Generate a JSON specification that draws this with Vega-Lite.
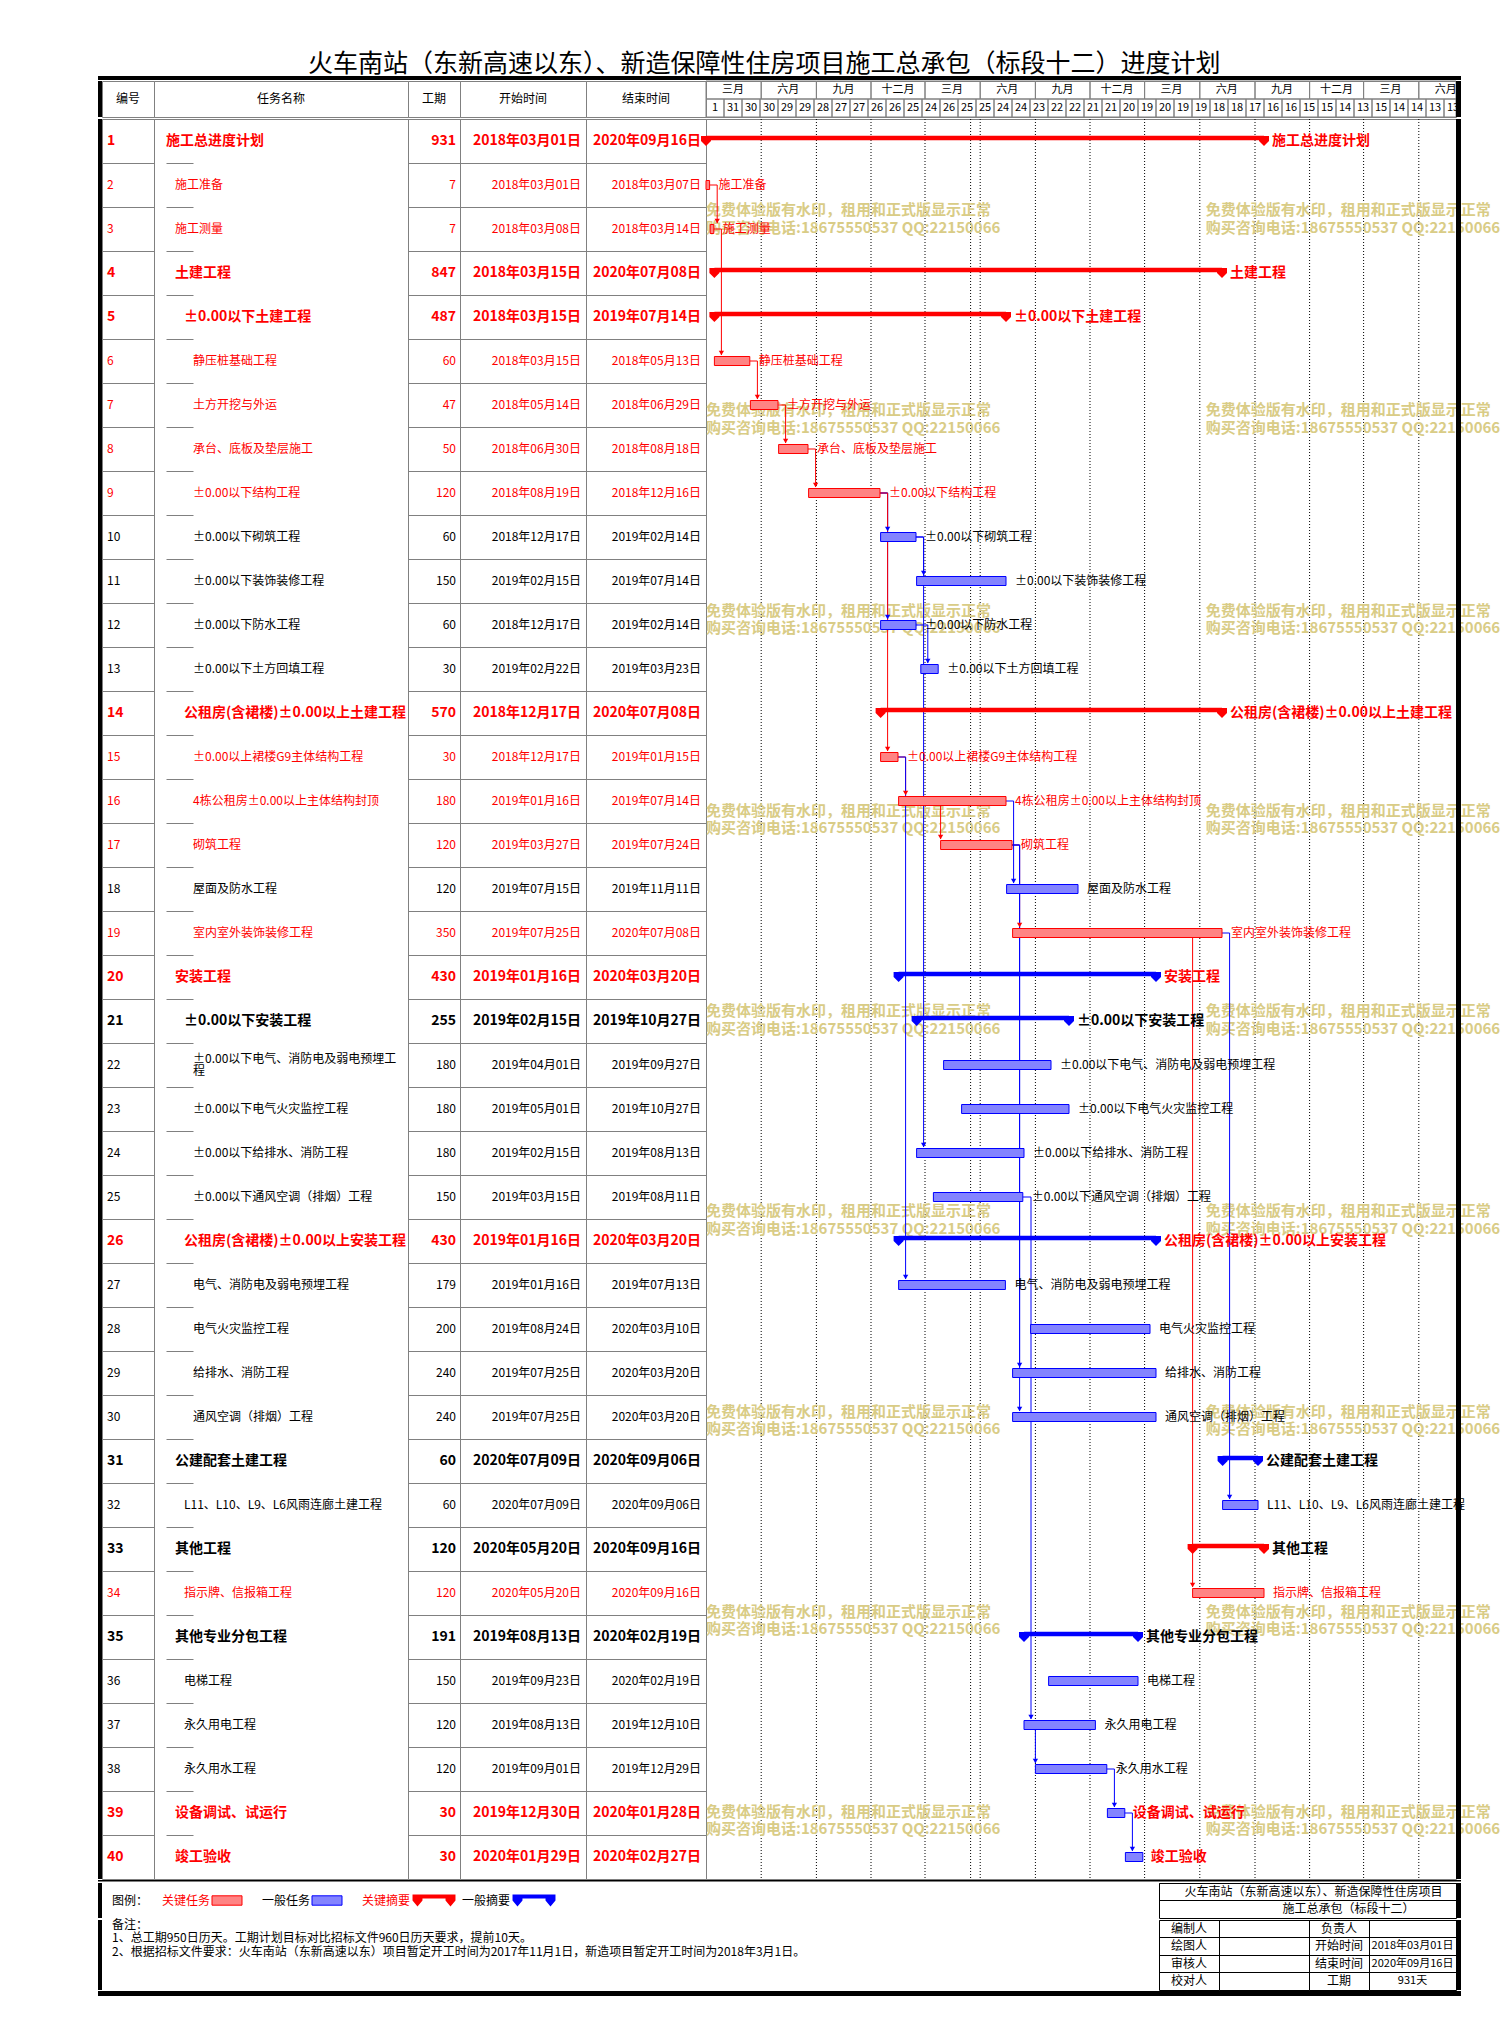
{
"$schema": "https://vega.github.io/schema/vega-lite/v6.json",
"background": "white",
"padding": {"left": 98, "top": 52, "right": 0, "bottom": 0},
"title": {"text": "火车南站（东新高速以东）、新造保障性住房项目施工总承包（标段十二）进度计划", "fontSize": 25, "fontWeight": "normal", "color": "#000000", "anchor": "start", "offset": -1, "dx": 210, "font": "Noto Sans CJK SC"},
"config": {"font": "Noto Sans CJK SC", "view": {"stroke": null}, "text": {"font": "Noto Sans CJK SC"}},
"datasets": {
"tasks": [
{"id":1,"name":"施工总进度计划","dur":931,"start":"2018-03-01","end":"2020-09-16","lvl":0,"b":1,"tc":"r","bc":"r","sum":1},
{"id":2,"name":"施工准备","dur":7,"start":"2018-03-01","end":"2018-03-07","lvl":1,"b":0,"tc":"r","bc":"r","sum":0},
{"id":3,"name":"施工测量","dur":7,"start":"2018-03-08","end":"2018-03-14","lvl":1,"b":0,"tc":"r","bc":"r","sum":0},
{"id":4,"name":"土建工程","dur":847,"start":"2018-03-15","end":"2020-07-08","lvl":1,"b":1,"tc":"r","bc":"r","sum":1},
{"id":5,"name":"±0.00以下土建工程","dur":487,"start":"2018-03-15","end":"2019-07-14","lvl":2,"b":1,"tc":"r","bc":"r","sum":1},
{"id":6,"name":"静压桩基础工程","dur":60,"start":"2018-03-15","end":"2018-05-13","lvl":3,"b":0,"tc":"r","bc":"r","sum":0},
{"id":7,"name":"土方开挖与外运","dur":47,"start":"2018-05-14","end":"2018-06-29","lvl":3,"b":0,"tc":"r","bc":"r","sum":0},
{"id":8,"name":"承台、底板及垫层施工","dur":50,"start":"2018-06-30","end":"2018-08-18","lvl":3,"b":0,"tc":"r","bc":"r","sum":0},
{"id":9,"name":"±0.00以下结构工程","dur":120,"start":"2018-08-19","end":"2018-12-16","lvl":3,"b":0,"tc":"r","bc":"r","sum":0},
{"id":10,"name":"±0.00以下砌筑工程","dur":60,"start":"2018-12-17","end":"2019-02-14","lvl":3,"b":0,"tc":"k","bc":"b","sum":0},
{"id":11,"name":"±0.00以下装饰装修工程","dur":150,"start":"2019-02-15","end":"2019-07-14","lvl":3,"b":0,"tc":"k","bc":"b","sum":0},
{"id":12,"name":"±0.00以下防水工程","dur":60,"start":"2018-12-17","end":"2019-02-14","lvl":3,"b":0,"tc":"k","bc":"b","sum":0},
{"id":13,"name":"±0.00以下土方回填工程","dur":30,"start":"2019-02-22","end":"2019-03-23","lvl":3,"b":0,"tc":"k","bc":"b","sum":0},
{"id":14,"name":"公租房(含裙楼)±0.00以上土建工程","dur":570,"start":"2018-12-17","end":"2020-07-08","lvl":2,"b":1,"tc":"r","bc":"r","sum":1},
{"id":15,"name":"±0.00以上裙楼G9主体结构工程","dur":30,"start":"2018-12-17","end":"2019-01-15","lvl":3,"b":0,"tc":"r","bc":"r","sum":0},
{"id":16,"name":"4栋公租房±0.00以上主体结构封顶","dur":180,"start":"2019-01-16","end":"2019-07-14","lvl":3,"b":0,"tc":"r","bc":"r","sum":0},
{"id":17,"name":"砌筑工程","dur":120,"start":"2019-03-27","end":"2019-07-24","lvl":3,"b":0,"tc":"r","bc":"r","sum":0},
{"id":18,"name":"屋面及防水工程","dur":120,"start":"2019-07-15","end":"2019-11-11","lvl":3,"b":0,"tc":"k","bc":"b","sum":0},
{"id":19,"name":"室内室外装饰装修工程","dur":350,"start":"2019-07-25","end":"2020-07-08","lvl":3,"b":0,"tc":"r","bc":"r","sum":0},
{"id":20,"name":"安装工程","dur":430,"start":"2019-01-16","end":"2020-03-20","lvl":1,"b":1,"tc":"r","bc":"b","sum":1},
{"id":21,"name":"±0.00以下安装工程","dur":255,"start":"2019-02-15","end":"2019-10-27","lvl":2,"b":1,"tc":"k","bc":"b","sum":1},
{"id":22,"name":"±0.00以下电气、消防电及弱电预埋工程","dur":180,"start":"2019-04-01","end":"2019-09-27","lvl":3,"b":0,"tc":"k","bc":"b","sum":0},
{"id":23,"name":"±0.00以下电气火灾监控工程","dur":180,"start":"2019-05-01","end":"2019-10-27","lvl":3,"b":0,"tc":"k","bc":"b","sum":0},
{"id":24,"name":"±0.00以下给排水、消防工程","dur":180,"start":"2019-02-15","end":"2019-08-13","lvl":3,"b":0,"tc":"k","bc":"b","sum":0},
{"id":25,"name":"±0.00以下通风空调（排烟）工程","dur":150,"start":"2019-03-15","end":"2019-08-11","lvl":3,"b":0,"tc":"k","bc":"b","sum":0},
{"id":26,"name":"公租房(含裙楼)±0.00以上安装工程","dur":430,"start":"2019-01-16","end":"2020-03-20","lvl":2,"b":1,"tc":"r","bc":"b","sum":1},
{"id":27,"name":"电气、消防电及弱电预埋工程","dur":179,"start":"2019-01-16","end":"2019-07-13","lvl":3,"b":0,"tc":"k","bc":"b","sum":0},
{"id":28,"name":"电气火灾监控工程","dur":200,"start":"2019-08-24","end":"2020-03-10","lvl":3,"b":0,"tc":"k","bc":"b","sum":0},
{"id":29,"name":"给排水、消防工程","dur":240,"start":"2019-07-25","end":"2020-03-20","lvl":3,"b":0,"tc":"k","bc":"b","sum":0},
{"id":30,"name":"通风空调（排烟）工程","dur":240,"start":"2019-07-25","end":"2020-03-20","lvl":3,"b":0,"tc":"k","bc":"b","sum":0},
{"id":31,"name":"公建配套土建工程","dur":60,"start":"2020-07-09","end":"2020-09-06","lvl":1,"b":1,"tc":"k","bc":"b","sum":1},
{"id":32,"name":"L11、L10、L9、L6风雨连廊土建工程","dur":60,"start":"2020-07-09","end":"2020-09-06","lvl":2,"b":0,"tc":"k","bc":"b","sum":0},
{"id":33,"name":"其他工程","dur":120,"start":"2020-05-20","end":"2020-09-16","lvl":1,"b":1,"tc":"k","bc":"r","sum":1},
{"id":34,"name":"指示牌、信报箱工程","dur":120,"start":"2020-05-20","end":"2020-09-16","lvl":2,"b":0,"tc":"r","bc":"r","sum":0},
{"id":35,"name":"其他专业分包工程","dur":191,"start":"2019-08-13","end":"2020-02-19","lvl":1,"b":1,"tc":"k","bc":"b","sum":1},
{"id":36,"name":"电梯工程","dur":150,"start":"2019-09-23","end":"2020-02-19","lvl":2,"b":0,"tc":"k","bc":"b","sum":0},
{"id":37,"name":"永久用电工程","dur":120,"start":"2019-08-13","end":"2019-12-10","lvl":2,"b":0,"tc":"k","bc":"b","sum":0},
{"id":38,"name":"永久用水工程","dur":120,"start":"2019-09-01","end":"2019-12-29","lvl":2,"b":0,"tc":"k","bc":"b","sum":0},
{"id":39,"name":"设备调试、试运行","dur":30,"start":"2019-12-30","end":"2020-01-28","lvl":1,"b":1,"tc":"r","bc":"b","sum":0},
{"id":40,"name":"竣工验收","dur":30,"start":"2020-01-29","end":"2020-02-27","lvl":1,"b":1,"tc":"r","bc":"b","sum":0}
],
"links": [
{"f":2,"t":3,"fe":"2018-03-07","ts":"2018-03-08","c":"r","k":"FS"},
{"f":3,"t":6,"fe":"2018-03-14","ts":"2018-03-15","c":"r","k":"FS"},
{"f":6,"t":7,"fe":"2018-05-13","ts":"2018-05-14","c":"r","k":"FS"},
{"f":7,"t":8,"fe":"2018-06-29","ts":"2018-06-30","c":"r","k":"FS"},
{"f":8,"t":9,"fe":"2018-08-18","ts":"2018-08-19","c":"r","k":"FS"},
{"f":9,"t":10,"fe":"2018-12-16","ts":"2018-12-17","c":"b","k":"FS"},
{"f":9,"t":12,"fe":"2018-12-16","ts":"2018-12-17","c":"b","k":"FS"},
{"f":9,"t":15,"fe":"2018-12-16","ts":"2018-12-17","c":"r","k":"FS"},
{"f":10,"t":11,"fe":"2019-02-14","ts":"2019-02-15","c":"b","k":"FS"},
{"f":10,"t":24,"fe":"2019-02-14","ts":"2019-02-15","c":"b","k":"FS"},
{"f":12,"t":13,"fe":"2019-02-14","ts":"2019-02-22","c":"b","k":"FS"},
{"f":15,"t":16,"fe":"2019-01-15","ts":"2019-01-16","c":"r","k":"FS"},
{"f":15,"t":27,"fe":"2019-01-15","ts":"2019-01-16","c":"b","k":"FS"},
{"f":16,"t":17,"fe":"2019-07-14","ts":"2019-03-27","c":"r","k":"SS"},
{"f":16,"t":18,"fe":"2019-07-14","ts":"2019-07-15","c":"b","k":"FS"},
{"f":17,"t":19,"fe":"2019-07-24","ts":"2019-07-25","c":"r","k":"FS"},
{"f":17,"t":29,"fe":"2019-07-24","ts":"2019-07-25","c":"b","k":"FS"},
{"f":17,"t":30,"fe":"2019-07-24","ts":"2019-07-25","c":"b","k":"FS"},
{"f":19,"t":34,"fe":"2020-07-08","ts":"2020-05-20","c":"r","k":"SS"},
{"f":19,"t":32,"fe":"2020-07-08","ts":"2020-07-09","c":"b","k":"FS"},
{"f":25,"t":37,"fe":"2019-08-11","ts":"2019-08-13","c":"b","k":"FS"},
{"f":37,"t":38,"fe":"2019-12-10","ts":"2019-09-01","c":"b","k":"SS"},
{"f":38,"t":39,"fe":"2019-12-29","ts":"2019-12-30","c":"b","k":"FS"},
{"f":39,"t":40,"fe":"2020-01-28","ts":"2020-01-29","c":"b","k":"FS"}
],
"quarters": [
{"i":0,"q":"三月","start":"2018-03-01","end":"2018-06-01"},{"i":1,"q":"六月","start":"2018-06-01","end":"2018-09-01"},{"i":2,"q":"九月","start":"2018-09-01","end":"2018-12-01"},{"i":3,"q":"十二月","start":"2018-12-01","end":"2019-03-01"},
{"i":4,"q":"三月","start":"2019-03-01","end":"2019-06-01"},{"i":5,"q":"六月","start":"2019-06-01","end":"2019-09-01"},{"i":6,"q":"九月","start":"2019-09-01","end":"2019-12-01"},{"i":7,"q":"十二月","start":"2019-12-01","end":"2020-03-01"},
{"i":8,"q":"三月","start":"2020-03-01","end":"2020-06-01"},{"i":9,"q":"六月","start":"2020-06-01","end":"2020-09-01"},{"i":10,"q":"九月","start":"2020-09-01","end":"2020-12-01"},{"i":11,"q":"十二月","start":"2020-12-01","end":"2021-03-01"},
{"i":12,"q":"三月","start":"2021-03-01","end":"2021-06-01"},{"i":13,"q":"六月","start":"2021-06-01","end":"2021-08-02"}
],
"days": [
{"d":"2018-03-01","e":"2018-03-31","n":"1"},{"d":"2018-03-31","e":"2018-04-30","n":"31"},{"d":"2018-04-30","e":"2018-05-30","n":"30"},{"d":"2018-05-30","e":"2018-06-29","n":"30"},{"d":"2018-06-29","e":"2018-07-29","n":"29"},{"d":"2018-07-29","e":"2018-08-28","n":"29"},{"d":"2018-08-28","e":"2018-09-27","n":"28"},{"d":"2018-09-27","e":"2018-10-27","n":"27"},{"d":"2018-10-27","e":"2018-11-26","n":"27"},{"d":"2018-11-26","e":"2018-12-26","n":"26"},{"d":"2018-12-26","e":"2019-01-25","n":"26"},{"d":"2019-01-25","e":"2019-02-24","n":"25"},{"d":"2019-02-24","e":"2019-03-26","n":"24"},{"d":"2019-03-26","e":"2019-04-25","n":"26"},{"d":"2019-04-25","e":"2019-05-25","n":"25"},{"d":"2019-05-25","e":"2019-06-24","n":"25"},{"d":"2019-06-24","e":"2019-07-24","n":"24"},{"d":"2019-07-24","e":"2019-08-23","n":"24"},{"d":"2019-08-23","e":"2019-09-22","n":"23"},{"d":"2019-09-22","e":"2019-10-22","n":"22"},{"d":"2019-10-22","e":"2019-11-21","n":"22"},{"d":"2019-11-21","e":"2019-12-21","n":"21"},{"d":"2019-12-21","e":"2020-01-20","n":"21"},{"d":"2020-01-20","e":"2020-02-19","n":"20"},{"d":"2020-02-19","e":"2020-03-20","n":"19"},{"d":"2020-03-20","e":"2020-04-19","n":"20"},{"d":"2020-04-19","e":"2020-05-19","n":"19"},{"d":"2020-05-19","e":"2020-06-18","n":"19"},{"d":"2020-06-18","e":"2020-07-18","n":"18"},{"d":"2020-07-18","e":"2020-08-17","n":"18"},{"d":"2020-08-17","e":"2020-09-16","n":"17"},{"d":"2020-09-16","e":"2020-10-16","n":"16"},{"d":"2020-10-16","e":"2020-11-15","n":"16"},{"d":"2020-11-15","e":"2020-12-15","n":"15"},{"d":"2020-12-15","e":"2021-01-14","n":"15"},{"d":"2021-01-14","e":"2021-02-13","n":"14"},{"d":"2021-02-13","e":"2021-03-15","n":"13"},{"d":"2021-03-15","e":"2021-04-14","n":"15"},{"d":"2021-04-14","e":"2021-05-14","n":"14"},{"d":"2021-05-14","e":"2021-06-13","n":"14"},{"d":"2021-06-13","e":"2021-07-13","n":"13"},{"d":"2021-07-13","e":"2021-08-02","n":"13"}
],
"wm": [
{"t":0,"x":"2018-03-01"},{"t":1,"x":"2018-03-01"},{"t":2,"x":"2018-03-01"},{"t":3,"x":"2018-03-01"},{"t":4,"x":"2018-03-01"},{"t":5,"x":"2018-03-01"},{"t":6,"x":"2018-03-01"},{"t":7,"x":"2018-03-01"},{"t":8,"x":"2018-03-01"},
{"t":0,"x":"2020-06-11"},{"t":1,"x":"2020-06-11"},{"t":2,"x":"2020-06-11"},{"t":3,"x":"2020-06-11"},{"t":4,"x":"2020-06-11"},{"t":5,"x":"2020-06-11"},{"t":6,"x":"2020-06-11"},{"t":7,"x":"2020-06-11"},{"t":8,"x":"2020-06-11"}
],
"legend": [
{"col":1,"kind":"t","k":"图例：","c":"k"},
{"col":2,"kind":"t","k":"关键任务","c":"r"},
{"col":3,"kind":"bar","c":"r"},
{"col":4,"kind":"t","k":"一般任务","c":"k"},
{"col":5,"kind":"bar","c":"b"},
{"col":6,"kind":"t","k":"关键摘要","c":"r"},
{"col":7,"kind":"sum","c":"r"},
{"col":8,"kind":"t","k":"一般摘要","c":"k"},
{"col":9,"kind":"sum","c":"b"}
],
"sign": [
{"r":"a","c1":"编制人","c3":"负责人","c4":""},
{"r":"b","c1":"绘图人","c3":"开始时间","c4":"2018年03月01日"},
{"r":"c","c1":"审核人","c3":"结束时间","c4":"2020年09月16日"},
{"r":"d","c1":"校对人","c3":"工期","c4":"931天"}
]
},
"spacing": 0,
"vconcat": [
{"width": 1363, "height": 4, "view": {"fill": "#000000", "stroke": null}, "data": {"values": [{}]}, "mark": {"type": "point", "size": 0, "opacity": 0, "strokeWidth": 0}, "encoding": {}},
{"spacing": 0, "bounds": "flush", "hconcat": [
 {"width": 4, "height": 36, "view": {"fill": "#000000", "stroke": null}, "data": {"values": [{}]}, "mark": {"type": "point", "size": 0, "opacity": 0, "strokeWidth": 0}, "encoding": {}},
 {"width": 52, "height": 36, "view": {"stroke": "#808080"}, "data": {"values": [{"h": "编号"}]}, "mark": {"type": "text", "fontSize": 12, "color": "#000000"}, "encoding": {"text": {"field": "h"}}},
 {"width": 254, "height": 36, "view": {"stroke": "#808080"}, "data": {"values": [{"h": "任务名称"}]}, "mark": {"type": "text", "fontSize": 12, "color": "#000000"}, "encoding": {"text": {"field": "h"}}},
 {"width": 52, "height": 36, "view": {"stroke": "#808080"}, "data": {"values": [{"h": "工期"}]}, "mark": {"type": "text", "fontSize": 12, "color": "#000000"}, "encoding": {"text": {"field": "h"}}},
 {"width": 126, "height": 36, "view": {"stroke": "#808080"}, "data": {"values": [{"h": "开始时间"}]}, "mark": {"type": "text", "fontSize": 12, "color": "#000000"}, "encoding": {"text": {"field": "h"}}},
 {"width": 120, "height": 36, "view": {"stroke": "#808080"}, "data": {"values": [{"h": "结束时间"}]}, "mark": {"type": "text", "fontSize": 12, "color": "#000000"}, "encoding": {"text": {"field": "h"}}},
 {"width": 750, "height": 36, "view": {"stroke": "#808080"},
  "layer": [
   {"data": {"name": "quarters"}, "mark": {"type": "rect", "fillOpacity": 0, "stroke": "#808080", "strokeWidth": 1},
    "encoding": {"x": {"field": "start", "type": "temporal", "axis": null, "scale": {"type": "utc", "domain": [{"year": 2018, "month": 3, "date": 1, "utc": true}, {"year": 2021, "month": 8, "date": 2, "utc": true}]}}, "x2": {"field": "end"},
                 "y": {"datum": "m", "type": "nominal", "axis": null, "scale": {"type": "band", "domain": ["m", "d"], "paddingInner": 0, "paddingOuter": 0}}}},
   {"data": {"name": "quarters"}, "mark": {"type": "text", "fontSize": 11, "dx": 27, "color": "#000000", "clip": true},
    "encoding": {"x": {"field": "start", "type": "temporal", "axis": null, "scale": {"type": "utc", "domain": [{"year": 2018, "month": 3, "date": 1, "utc": true}, {"year": 2021, "month": 8, "date": 2, "utc": true}]}},
                 "y": {"datum": "m", "type": "nominal", "axis": null, "scale": {"type": "band", "domain": ["m", "d"], "paddingInner": 0, "paddingOuter": 0}}, "text": {"field": "q"}}},
   {"data": {"name": "days"}, "mark": {"type": "rect", "fillOpacity": 0, "stroke": "#808080", "strokeWidth": 1},
    "encoding": {"x": {"field": "d", "type": "temporal", "axis": null, "scale": {"type": "utc", "domain": [{"year": 2018, "month": 3, "date": 1, "utc": true}, {"year": 2021, "month": 8, "date": 2, "utc": true}]}}, "x2": {"field": "e"},
                 "y": {"datum": "d", "type": "nominal", "axis": null, "scale": {"type": "band", "domain": ["m", "d"], "paddingInner": 0, "paddingOuter": 0}}}},
   {"data": {"name": "days"}, "mark": {"type": "text", "fontSize": 11, "dx": 9, "color": "#000000", "clip": true},
    "encoding": {"x": {"field": "d", "type": "temporal", "axis": null, "scale": {"type": "utc", "domain": [{"year": 2018, "month": 3, "date": 1, "utc": true}, {"year": 2021, "month": 8, "date": 2, "utc": true}]}},
                 "y": {"datum": "d", "type": "nominal", "axis": null, "scale": {"type": "band", "domain": ["m", "d"], "paddingInner": 0, "paddingOuter": 0}}, "text": {"field": "n"}}}
  ]},
 {"width": 5, "height": 36, "view": {"fill": "#000000", "stroke": null}, "data": {"values": [{}]}, "mark": {"type": "point", "size": 0, "opacity": 0, "strokeWidth": 0}, "encoding": {}}
]},
{"spacing": 0, "bounds": "flush", "hconcat": [
 {"width": 4, "height": 1760, "view": {"fill": "#000000", "stroke": null}, "data": {"values": [{}]}, "mark": {"type": "point", "size": 0, "opacity": 0, "strokeWidth": 0}, "encoding": {}},
 {"width": 52, "height": 1760, "view": {"stroke": "#808080"}, "data": {"name": "tasks"},
  "encoding": {"y": {"field": "id", "type": "ordinal", "scale": {"type": "band", "domain": [1,2,3,4,5,6,7,8,9,10,11,12,13,14,15,16,17,18,19,20,21,22,23,24,25,26,27,28,29,30,31,32,33,34,35,36,37,38,39,40], "paddingInner": 0, "paddingOuter": 0}, "axis": {"grid": true, "gridColor": "#808080", "gridWidth": 1, "domain": false, "ticks": false, "labels": false, "title": null, "bandPosition": 0}}},
  "layer": [
   {"transform": [{"filter": "datum.b == 1"}], "mark": {"type": "text", "align": "left", "dx": 5, "fontSize": 14, "fontWeight": "bold"}, "encoding": {"x": {"value": 0}, "text": {"field": "id", "type": "nominal"}, "color": {"field": "tc", "type": "nominal", "scale": {"domain": ["r","k","b"], "range": ["#ff0000","#000000","#0000ff"]}, "legend": null}}},
   {"transform": [{"filter": "datum.b == 0"}], "mark": {"type": "text", "align": "left", "dx": 5, "fontSize": 12}, "encoding": {"x": {"value": 0}, "text": {"field": "id", "type": "nominal"}, "color": {"field": "tc", "type": "nominal", "scale": {"domain": ["r","k","b"], "range": ["#ff0000","#000000","#0000ff"]}, "legend": null}}}
  ]},
 {"width": 254, "height": 1760, "view": {"stroke": "#808080"}, "data": {"name": "tasks"},
  "encoding": {"y": {"field": "id", "type": "ordinal", "scale": {"type": "band", "domain": [1,2,3,4,5,6,7,8,9,10,11,12,13,14,15,16,17,18,19,20,21,22,23,24,25,26,27,28,29,30,31,32,33,34,35,36,37,38,39,40], "paddingInner": 0, "paddingOuter": 0}, "axis": {"grid": true, "gridColor": "#808080", "gridWidth": 1, "domain": false, "ticks": false, "labels": false, "title": null, "bandPosition": 0}},
               "x": {"field": "lvl", "type": "quantitative", "scale": {"domain": [0, 3], "range": [12, 39]}, "axis": null}},
  "layer": [
   {"transform": [{"filter": "datum.b == 1"}], "mark": {"type": "text", "align": "left", "fontSize": 14, "fontWeight": "bold"}, "encoding": {"text": {"field": "name", "type": "nominal"}, "color": {"field": "tc", "type": "nominal", "scale": {"domain": ["r","k","b"], "range": ["#ff0000","#000000","#0000ff"]}, "legend": null}}},
   {"transform": [{"filter": "datum.b == 0 && datum.id != 22"}], "mark": {"type": "text", "align": "left", "fontSize": 12}, "encoding": {"text": {"field": "name", "type": "nominal"}, "color": {"field": "tc", "type": "nominal", "scale": {"domain": ["r","k","b"], "range": ["#ff0000","#000000","#0000ff"]}, "legend": null}}},
   {"transform": [{"filter": "datum.id == 22"}], "mark": {"type": "text", "align": "left", "fontSize": 12, "lineHeight": 12, "dy": -6, "text": ["±0.00以下电气、消防电及弱电预埋工", "程"]}, "encoding": {"color": {"field": "tc", "type": "nominal", "scale": {"domain": ["r","k","b"], "range": ["#ff0000","#000000","#0000ff"]}, "legend": null}}}
  ]},
 {"width": 52, "height": 1760, "view": {"stroke": "#808080"}, "data": {"name": "tasks"},
  "encoding": {"y": {"field": "id", "type": "ordinal", "scale": {"type": "band", "domain": [1,2,3,4,5,6,7,8,9,10,11,12,13,14,15,16,17,18,19,20,21,22,23,24,25,26,27,28,29,30,31,32,33,34,35,36,37,38,39,40], "paddingInner": 0, "paddingOuter": 0}, "axis": {"grid": true, "gridColor": "#808080", "gridWidth": 1, "domain": false, "ticks": false, "labels": false, "title": null, "bandPosition": 0}}},
  "layer": [
   {"transform": [{"filter": "datum.b == 1"}], "mark": {"type": "text", "align": "right", "dx": -4, "fontSize": 14, "fontWeight": "bold"}, "encoding": {"x": {"value": "width"}, "text": {"field": "dur", "type": "nominal"}, "color": {"field": "tc", "type": "nominal", "scale": {"domain": ["r","k","b"], "range": ["#ff0000","#000000","#0000ff"]}, "legend": null}}},
   {"transform": [{"filter": "datum.b == 0"}], "mark": {"type": "text", "align": "right", "dx": -4, "fontSize": 12}, "encoding": {"x": {"value": "width"}, "text": {"field": "dur", "type": "nominal"}, "color": {"field": "tc", "type": "nominal", "scale": {"domain": ["r","k","b"], "range": ["#ff0000","#000000","#0000ff"]}, "legend": null}}}
  ]},
 {"width": 126, "height": 1760, "view": {"stroke": "#808080"}, "data": {"name": "tasks"},
  "encoding": {"y": {"field": "id", "type": "ordinal", "scale": {"type": "band", "domain": [1,2,3,4,5,6,7,8,9,10,11,12,13,14,15,16,17,18,19,20,21,22,23,24,25,26,27,28,29,30,31,32,33,34,35,36,37,38,39,40], "paddingInner": 0, "paddingOuter": 0}, "axis": {"grid": true, "gridColor": "#808080", "gridWidth": 1, "domain": false, "ticks": false, "labels": false, "title": null, "bandPosition": 0}}},
  "layer": [
   {"transform": [{"filter": "datum.b == 1"}], "mark": {"type": "text", "align": "right", "dx": -5, "fontSize": 14, "fontWeight": "bold"}, "encoding": {"x": {"value": "width"}, "text": {"field": "start", "type": "temporal", "timeUnit": "utcyearmonthdate", "format": "%Y年%m月%d日"}, "color": {"field": "tc", "type": "nominal", "scale": {"domain": ["r","k","b"], "range": ["#ff0000","#000000","#0000ff"]}, "legend": null}}},
   {"transform": [{"filter": "datum.b == 0"}], "mark": {"type": "text", "align": "right", "dx": -5, "fontSize": 12}, "encoding": {"x": {"value": "width"}, "text": {"field": "start", "type": "temporal", "timeUnit": "utcyearmonthdate", "format": "%Y年%m月%d日"}, "color": {"field": "tc", "type": "nominal", "scale": {"domain": ["r","k","b"], "range": ["#ff0000","#000000","#0000ff"]}, "legend": null}}}
  ]},
 {"width": 120, "height": 1760, "view": {"stroke": "#808080"}, "data": {"name": "tasks"},
  "encoding": {"y": {"field": "id", "type": "ordinal", "scale": {"type": "band", "domain": [1,2,3,4,5,6,7,8,9,10,11,12,13,14,15,16,17,18,19,20,21,22,23,24,25,26,27,28,29,30,31,32,33,34,35,36,37,38,39,40], "paddingInner": 0, "paddingOuter": 0}, "axis": {"grid": true, "gridColor": "#808080", "gridWidth": 1, "domain": false, "ticks": false, "labels": false, "title": null, "bandPosition": 0}}},
  "layer": [
   {"transform": [{"filter": "datum.b == 1"}], "mark": {"type": "text", "align": "right", "dx": -5, "fontSize": 14, "fontWeight": "bold"}, "encoding": {"x": {"value": "width"}, "text": {"field": "end", "type": "temporal", "timeUnit": "utcyearmonthdate", "format": "%Y年%m月%d日"}, "color": {"field": "tc", "type": "nominal", "scale": {"domain": ["r","k","b"], "range": ["#ff0000","#000000","#0000ff"]}, "legend": null}}},
   {"transform": [{"filter": "datum.b == 0"}], "mark": {"type": "text", "align": "right", "dx": -5, "fontSize": 12}, "encoding": {"x": {"value": "width"}, "text": {"field": "end", "type": "temporal", "timeUnit": "utcyearmonthdate", "format": "%Y年%m月%d日"}, "color": {"field": "tc", "type": "nominal", "scale": {"domain": ["r","k","b"], "range": ["#ff0000","#000000","#0000ff"]}, "legend": null}}}
  ]},
 {"width": 750, "height": 1760, "view": {"stroke": "#808080"},
  "resolve": {"scale": {"y": "independent"}},
  "layer": [
   {"data": {"name": "quarters"}, "transform": [{"filter": "datum.i > 0"}], "mark": {"type": "rule", "color": "#000000", "strokeWidth": 1, "strokeDash": [1, 2]}, "encoding": {"x": {"field": "start", "type": "temporal", "axis": null, "scale": {"type": "utc", "domain": [{"year": 2018, "month": 3, "date": 1, "utc": true}, {"year": 2021, "month": 8, "date": 2, "utc": true}]}}}},
   {"data": {"values": [{"d": "2019-05-16"}]}, "mark": {"type": "rule", "color": "#000000", "strokeWidth": 1, "strokeDash": [1, 2]}, "encoding": {"x": {"field": "d", "type": "temporal", "axis": null, "scale": {"type": "utc", "domain": [{"year": 2018, "month": 3, "date": 1, "utc": true}, {"year": 2021, "month": 8, "date": 2, "utc": true}]}}}},
   {"data": {"name": "wm"}, "mark": {"type": "text", "align": "left", "baseline": "middle", "fontSize": 15, "fontWeight": "bold", "color": "#d9cc86", "lineHeight": 17.4, "text": ["免费体验版有水印，租用和正式版显示正常", "购买咨询电话:18675550537 QQ:22150066"]},
    "encoding": {"x": {"field": "x", "type": "temporal", "axis": null, "scale": {"type": "utc", "domain": [{"year": 2018, "month": 3, "date": 1, "utc": true}, {"year": 2021, "month": 8, "date": 2, "utc": true}]}},
                 "y": {"field": "t", "type": "quantitative", "axis": null, "scale": {"domain": [-0.456, 8.335], "reverse": true, "nice": false, "zero": false}}}},
   {"data": {"name": "links"}, "transform": [{"filter": "datum.k == 'FS'"}], "mark": {"type": "rule", "strokeWidth": 1, "x2Offset": 7},
    "encoding": {"x": {"field": "fe", "type": "temporal", "axis": null, "scale": {"type": "utc", "domain": [{"year": 2018, "month": 3, "date": 1, "utc": true}, {"year": 2021, "month": 8, "date": 2, "utc": true}]}}, "x2": {"field": "ts"},
                 "y": {"field": "f", "type": "ordinal", "axis": null, "scale": {"type": "band", "domain": [1,2,3,4,5,6,7,8,9,10,11,12,13,14,15,16,17,18,19,20,21,22,23,24,25,26,27,28,29,30,31,32,33,34,35,36,37,38,39,40], "paddingInner": 0, "paddingOuter": 0}},
                 "color": {"field": "c", "type": "nominal", "scale": {"domain": ["r","k","b"], "range": ["#ff0000","#000000","#0000ff"]}, "legend": null}}},
   {"data": {"name": "links"}, "transform": [{"filter": "datum.k == 'FS'"}], "mark": {"type": "rule", "strokeWidth": 1, "xOffset": 7, "y2Offset": -6},
    "encoding": {"x": {"field": "ts", "type": "temporal", "axis": null, "scale": {"type": "utc", "domain": [{"year": 2018, "month": 3, "date": 1, "utc": true}, {"year": 2021, "month": 8, "date": 2, "utc": true}]}},
                 "y": {"field": "f", "type": "ordinal", "axis": null, "scale": {"type": "band", "domain": [1,2,3,4,5,6,7,8,9,10,11,12,13,14,15,16,17,18,19,20,21,22,23,24,25,26,27,28,29,30,31,32,33,34,35,36,37,38,39,40], "paddingInner": 0, "paddingOuter": 0}}, "y2": {"field": "t"},
                 "color": {"field": "c", "type": "nominal", "scale": {"domain": ["r","k","b"], "range": ["#ff0000","#000000","#0000ff"]}, "legend": null}}},
   {"data": {"name": "links"}, "transform": [{"filter": "datum.k == 'SS'"}], "mark": {"type": "rule", "strokeWidth": 1, "y2Offset": -6},
    "encoding": {"x": {"field": "ts", "type": "temporal", "axis": null, "scale": {"type": "utc", "domain": [{"year": 2018, "month": 3, "date": 1, "utc": true}, {"year": 2021, "month": 8, "date": 2, "utc": true}]}},
                 "y": {"field": "f", "type": "ordinal", "axis": null, "scale": {"type": "band", "domain": [1,2,3,4,5,6,7,8,9,10,11,12,13,14,15,16,17,18,19,20,21,22,23,24,25,26,27,28,29,30,31,32,33,34,35,36,37,38,39,40], "paddingInner": 0, "paddingOuter": 0}}, "y2": {"field": "t"},
                 "color": {"field": "c", "type": "nominal", "scale": {"domain": ["r","k","b"], "range": ["#ff0000","#000000","#0000ff"]}, "legend": null}}},
   {"data": {"name": "links"}, "transform": [{"filter": "datum.k == 'FS'"}], "mark": {"type": "point", "shape": "triangle-down", "size": 28, "filled": true, "opacity": 1, "strokeWidth": 0, "xOffset": 7, "yOffset": -8},
    "encoding": {"x": {"field": "ts", "type": "temporal", "axis": null, "scale": {"type": "utc", "domain": [{"year": 2018, "month": 3, "date": 1, "utc": true}, {"year": 2021, "month": 8, "date": 2, "utc": true}]}},
                 "y": {"field": "t", "type": "ordinal", "axis": null, "scale": {"type": "band", "domain": [1,2,3,4,5,6,7,8,9,10,11,12,13,14,15,16,17,18,19,20,21,22,23,24,25,26,27,28,29,30,31,32,33,34,35,36,37,38,39,40], "paddingInner": 0, "paddingOuter": 0}},
                 "color": {"field": "c", "type": "nominal", "scale": {"domain": ["r","k","b"], "range": ["#ff0000","#000000","#0000ff"]}, "legend": null}}},
   {"data": {"name": "links"}, "transform": [{"filter": "datum.k == 'SS'"}], "mark": {"type": "point", "shape": "triangle-down", "size": 28, "filled": true, "opacity": 1, "strokeWidth": 0, "yOffset": -8},
    "encoding": {"x": {"field": "ts", "type": "temporal", "axis": null, "scale": {"type": "utc", "domain": [{"year": 2018, "month": 3, "date": 1, "utc": true}, {"year": 2021, "month": 8, "date": 2, "utc": true}]}},
                 "y": {"field": "t", "type": "ordinal", "axis": null, "scale": {"type": "band", "domain": [1,2,3,4,5,6,7,8,9,10,11,12,13,14,15,16,17,18,19,20,21,22,23,24,25,26,27,28,29,30,31,32,33,34,35,36,37,38,39,40], "paddingInner": 0, "paddingOuter": 0}},
                 "color": {"field": "c", "type": "nominal", "scale": {"domain": ["r","k","b"], "range": ["#ff0000","#000000","#0000ff"]}, "legend": null}}},
   {"data": {"name": "tasks"}, "transform": [{"filter": "datum.sum == 0"}], "mark": {"type": "bar", "height": 9, "strokeWidth": 1},
    "encoding": {"x": {"field": "start", "type": "temporal", "axis": null, "scale": {"type": "utc", "domain": [{"year": 2018, "month": 3, "date": 1, "utc": true}, {"year": 2021, "month": 8, "date": 2, "utc": true}]}}, "x2": {"field": "end"},
                 "y": {"field": "id", "type": "ordinal", "axis": null, "scale": {"type": "band", "domain": [1,2,3,4,5,6,7,8,9,10,11,12,13,14,15,16,17,18,19,20,21,22,23,24,25,26,27,28,29,30,31,32,33,34,35,36,37,38,39,40], "paddingInner": 0, "paddingOuter": 0}},
                 "fill": {"field": "bc", "type": "nominal", "scale": {"domain": ["r","b"], "range": ["#ff8484","#8484ff"]}, "legend": null},
                 "stroke": {"field": "bc", "type": "nominal", "scale": {"domain": ["r","b"], "range": ["#ff0000","#0000ff"]}, "legend": null}}},
   {"data": {"name": "tasks"}, "transform": [{"filter": "datum.sum == 1"}], "mark": {"type": "bar", "height": 4.5, "yOffset": -3.1},
    "encoding": {"x": {"field": "start", "type": "temporal", "axis": null, "scale": {"type": "utc", "domain": [{"year": 2018, "month": 3, "date": 1, "utc": true}, {"year": 2021, "month": 8, "date": 2, "utc": true}]}}, "x2": {"field": "end"},
                 "y": {"field": "id", "type": "ordinal", "axis": null, "scale": {"type": "band", "domain": [1,2,3,4,5,6,7,8,9,10,11,12,13,14,15,16,17,18,19,20,21,22,23,24,25,26,27,28,29,30,31,32,33,34,35,36,37,38,39,40], "paddingInner": 0, "paddingOuter": 0}},
                 "color": {"field": "bc", "type": "nominal", "scale": {"domain": ["r","k","b"], "range": ["#ff0000","#000000","#0000ff"]}, "legend": null}}},
   {"data": {"name": "tasks"}, "transform": [{"filter": "datum.sum == 1"}], "mark": {"type": "point", "shape": "M-1,-1L1,-1L1,0L0,1L-1,0Z", "size": 100, "filled": true, "opacity": 1, "strokeWidth": 0},
    "encoding": {"x": {"field": "start", "type": "temporal", "axis": null, "scale": {"type": "utc", "domain": [{"year": 2018, "month": 3, "date": 1, "utc": true}, {"year": 2021, "month": 8, "date": 2, "utc": true}]}},
                 "y": {"field": "id", "type": "ordinal", "axis": null, "scale": {"type": "band", "domain": [1,2,3,4,5,6,7,8,9,10,11,12,13,14,15,16,17,18,19,20,21,22,23,24,25,26,27,28,29,30,31,32,33,34,35,36,37,38,39,40], "paddingInner": 0, "paddingOuter": 0}},
                 "color": {"field": "bc", "type": "nominal", "scale": {"domain": ["r","k","b"], "range": ["#ff0000","#000000","#0000ff"]}, "legend": null}}},
   {"data": {"name": "tasks"}, "transform": [{"filter": "datum.sum == 1"}], "mark": {"type": "point", "shape": "M-1,-1L1,-1L1,0L0,1L-1,0Z", "size": 100, "filled": true, "opacity": 1, "strokeWidth": 0},
    "encoding": {"x": {"field": "end", "type": "temporal", "axis": null, "scale": {"type": "utc", "domain": [{"year": 2018, "month": 3, "date": 1, "utc": true}, {"year": 2021, "month": 8, "date": 2, "utc": true}]}},
                 "y": {"field": "id", "type": "ordinal", "axis": null, "scale": {"type": "band", "domain": [1,2,3,4,5,6,7,8,9,10,11,12,13,14,15,16,17,18,19,20,21,22,23,24,25,26,27,28,29,30,31,32,33,34,35,36,37,38,39,40], "paddingInner": 0, "paddingOuter": 0}},
                 "color": {"field": "bc", "type": "nominal", "scale": {"domain": ["r","k","b"], "range": ["#ff0000","#000000","#0000ff"]}, "legend": null}}},
   {"data": {"name": "tasks"}, "transform": [{"filter": "datum.b == 1"}], "mark": {"type": "text", "align": "left", "dx": 8, "fontSize": 14, "fontWeight": "bold"},
    "encoding": {"x": {"field": "end", "type": "temporal", "axis": null, "scale": {"type": "utc", "domain": [{"year": 2018, "month": 3, "date": 1, "utc": true}, {"year": 2021, "month": 8, "date": 2, "utc": true}]}},
                 "y": {"field": "id", "type": "ordinal", "axis": null, "scale": {"type": "band", "domain": [1,2,3,4,5,6,7,8,9,10,11,12,13,14,15,16,17,18,19,20,21,22,23,24,25,26,27,28,29,30,31,32,33,34,35,36,37,38,39,40], "paddingInner": 0, "paddingOuter": 0}},
                 "text": {"field": "name", "type": "nominal"},
                 "color": {"field": "tc", "type": "nominal", "scale": {"domain": ["r","k","b"], "range": ["#ff0000","#000000","#0000ff"]}, "legend": null}}},
   {"data": {"name": "tasks"}, "transform": [{"filter": "datum.b == 0"}], "mark": {"type": "text", "align": "left", "dx": 9, "fontSize": 12},
    "encoding": {"x": {"field": "end", "type": "temporal", "axis": null, "scale": {"type": "utc", "domain": [{"year": 2018, "month": 3, "date": 1, "utc": true}, {"year": 2021, "month": 8, "date": 2, "utc": true}]}},
                 "y": {"field": "id", "type": "ordinal", "axis": null, "scale": {"type": "band", "domain": [1,2,3,4,5,6,7,8,9,10,11,12,13,14,15,16,17,18,19,20,21,22,23,24,25,26,27,28,29,30,31,32,33,34,35,36,37,38,39,40], "paddingInner": 0, "paddingOuter": 0}},
                 "text": {"field": "name", "type": "nominal"},
                 "color": {"field": "tc", "type": "nominal", "scale": {"domain": ["r","k","b"], "range": ["#ff0000","#000000","#0000ff"]}, "legend": null}}}
  ]},
 {"width": 5, "height": 1760, "view": {"fill": "#000000", "stroke": null}, "data": {"values": [{}]}, "mark": {"type": "point", "size": 0, "opacity": 0, "strokeWidth": 0}, "encoding": {}}
]},
{"width": 1363, "height": 1.5, "view": {"fill": "#000000", "stroke": null}, "data": {"values": [{}]}, "mark": {"type": "point", "size": 0, "opacity": 0, "strokeWidth": 0}, "encoding": {}},
{"spacing": 0, "bounds": "flush", "hconcat": [
 {"width": 4, "height": 35, "view": {"fill": "#000000", "stroke": null}, "data": {"values": [{}]}, "mark": {"type": "point", "size": 0, "opacity": 0, "strokeWidth": 0}, "encoding": {}},
 {"width": 1057, "height": 35, "data": {"name": "legend"},
  "layer": [
   {"transform": [{"filter": "datum.kind == 't'"}], "mark": {"type": "text", "align": "left", "fontSize": 12},
    "encoding": {"x": {"field": "col", "type": "ordinal", "axis": null, "scale": {"type": "point", "domain": [1,2,3,4,5,6,7,8,9], "range": [10, 410], "padding": 0}},
                 "text": {"field": "k"},
                 "color": {"field": "c", "type": "nominal", "scale": {"domain": ["r","k","b"], "range": ["#ff0000","#000000","#0000ff"]}, "legend": null}}},
   {"transform": [{"filter": "datum.kind == 'bar'"}], "mark": {"type": "point", "shape": "M-1.5,-0.47L1.5,-0.47L1.5,0.47L-1.5,0.47Z", "size": 400, "filled": true, "opacity": 1, "strokeWidth": 1, "xOffset": 15},
    "encoding": {"x": {"field": "col", "type": "ordinal", "axis": null, "scale": {"type": "point", "domain": [1,2,3,4,5,6,7,8,9], "range": [10, 410], "padding": 0}},
                 "fill": {"field": "c", "type": "nominal", "scale": {"domain": ["r","b"], "range": ["#ff8484","#8484ff"]}, "legend": null},
                 "stroke": {"field": "c", "type": "nominal", "scale": {"domain": ["r","b"], "range": ["#ff0000","#0000ff"]}, "legend": null}}},
   {"transform": [{"filter": "datum.kind == 'sum'"}], "mark": {"type": "point", "shape": "M-3.58,-1L3.58,-1L3.58,0L2.75,1L1.92,0L1.92,-0.33L-1.92,-0.33L-1.92,0L-2.75,1L-3.58,0Z", "size": 144, "filled": true, "opacity": 1, "strokeWidth": 0, "xOffset": 22},
    "encoding": {"x": {"field": "col", "type": "ordinal", "axis": null, "scale": {"type": "point", "domain": [1,2,3,4,5,6,7,8,9], "range": [10, 410], "padding": 0}},
                 "color": {"field": "c", "type": "nominal", "scale": {"domain": ["r","k","b"], "range": ["#ff0000","#000000","#0000ff"]}, "legend": null}}}
  ]},
 {"width": 297, "height": 35, "view": {"stroke": "#000000"}, "data": {"values": [{"r": "t1", "s": "火车南站（东新高速以东）、新造保障性住房项目"}, {"r": "t2", "s": "施工总承包（标段十二）"}]},
  "encoding": {"y": {"field": "r", "type": "nominal", "scale": {"type": "band", "domain": ["t1", "t2"], "paddingInner": 0, "paddingOuter": 0}, "axis": {"grid": true, "gridColor": "#000000", "gridWidth": 1, "domain": false, "ticks": false, "labels": false, "title": null, "bandPosition": 0}}},
  "layer": [
   {"transform": [{"filter": "datum.r == 't1'"}], "mark": {"type": "text", "fontSize": 12, "dx": 6, "color": "#000000"}, "encoding": {"text": {"field": "s"}}},
   {"transform": [{"filter": "datum.r == 't2'"}], "mark": {"type": "text", "fontSize": 12, "dx": 41, "color": "#000000"}, "encoding": {"text": {"field": "s"}}}
  ]},
 {"width": 5, "height": 35, "view": {"fill": "#000000", "stroke": null}, "data": {"values": [{}]}, "mark": {"type": "point", "size": 0, "opacity": 0, "strokeWidth": 0}, "encoding": {}}
]},
{"spacing": 0, "bounds": "flush", "hconcat": [
 {"width": 4, "height": 70, "view": {"fill": "#000000", "stroke": null}, "data": {"values": [{}]}, "mark": {"type": "point", "size": 0, "opacity": 0, "strokeWidth": 0}, "encoding": {}},
 {"width": 1057, "height": 70, "data": {"values": [{}]},
  "mark": {"type": "text", "align": "left", "baseline": "top", "fontSize": 12, "lineHeight": 13.35, "color": "#000000", "dx": 10, "dy": 0,
           "text": ["备注：", "\u3000\u3000\u20021、总工期950日历天。工期计划目标对比招标文件960日历天要求，提前10天。", "\u3000\u3000\u20022、根据招标文件要求：火车南站（东新高速以东）项目暂定开工时间为2017年11月1日，新造项目暂定开工时间为2018年3月1日。"]},
  "encoding": {"x": {"value": 0}, "y": {"value": 0}}},
 {"width": 60, "height": 70, "view": {"stroke": "#000000"}, "data": {"name": "sign"}, "mark": {"type": "text", "fontSize": 12, "color": "#000000"},
  "encoding": {"y": {"field": "r", "type": "nominal", "scale": {"type": "band", "domain": ["a","b","c","d"], "paddingInner": 0, "paddingOuter": 0}, "axis": {"grid": true, "gridColor": "#000000", "gridWidth": 1, "domain": false, "ticks": false, "labels": false, "title": null, "bandPosition": 0}}, "text": {"field": "c1"}}},
 {"width": 90, "height": 70, "view": {"stroke": "#000000"}, "data": {"name": "sign"}, "mark": {"type": "text", "fontSize": 12, "color": "#000000", "text": ""},
  "encoding": {"y": {"field": "r", "type": "nominal", "scale": {"type": "band", "domain": ["a","b","c","d"], "paddingInner": 0, "paddingOuter": 0}, "axis": {"grid": true, "gridColor": "#000000", "gridWidth": 1, "domain": false, "ticks": false, "labels": false, "title": null, "bandPosition": 0}}}},
 {"width": 60, "height": 70, "view": {"stroke": "#000000"}, "data": {"name": "sign"}, "mark": {"type": "text", "fontSize": 12, "color": "#000000"},
  "encoding": {"y": {"field": "r", "type": "nominal", "scale": {"type": "band", "domain": ["a","b","c","d"], "paddingInner": 0, "paddingOuter": 0}, "axis": {"grid": true, "gridColor": "#000000", "gridWidth": 1, "domain": false, "ticks": false, "labels": false, "title": null, "bandPosition": 0}}, "text": {"field": "c3"}}},
 {"width": 87, "height": 70, "view": {"stroke": "#000000"}, "data": {"name": "sign"}, "mark": {"type": "text", "fontSize": 11, "color": "#000000"},
  "encoding": {"y": {"field": "r", "type": "nominal", "scale": {"type": "band", "domain": ["a","b","c","d"], "paddingInner": 0, "paddingOuter": 0}, "axis": {"grid": true, "gridColor": "#000000", "gridWidth": 1, "domain": false, "ticks": false, "labels": false, "title": null, "bandPosition": 0}}, "text": {"field": "c4"}}},
 {"width": 5, "height": 70, "view": {"fill": "#000000", "stroke": null}, "data": {"values": [{}]}, "mark": {"type": "point", "size": 0, "opacity": 0, "strokeWidth": 0}, "encoding": {}}
]},
{"width": 1363, "height": 5, "view": {"fill": "#000000", "stroke": null}, "data": {"values": [{}]}, "mark": {"type": "point", "size": 0, "opacity": 0, "strokeWidth": 0}, "encoding": {}}
]
}
